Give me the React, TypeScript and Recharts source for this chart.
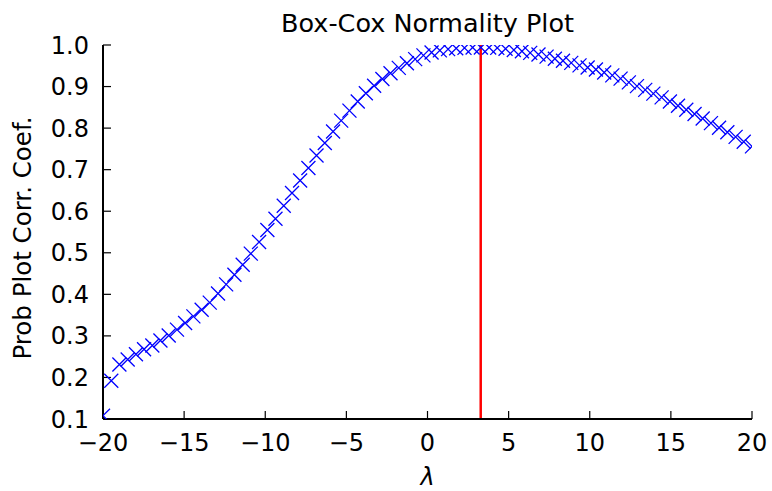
import { ComposedChart, Scatter, XAxis, YAxis, ReferenceLine } from 'recharts'

// lambda grid (80 points, -20 .. 20)
const LAMBDAS = [
  -20.00, -19.49, -18.99, -18.48, -17.97, -17.47, -16.96, -16.46, -15.95, -15.44,
  -14.94, -14.43, -13.92, -13.42, -12.91, -12.41, -11.90, -11.39, -10.89, -10.38,
  -9.87, -9.37, -8.86, -8.35, -7.85, -7.34, -6.84, -6.33, -5.82, -5.32,
  -4.81, -4.30, -3.80, -3.29, -2.78, -2.28, -1.77, -1.27, -0.76, -0.25,
  0.25, 0.76, 1.27, 1.77, 2.28, 2.78, 3.29, 3.80, 4.30, 4.81,
  5.32, 5.82, 6.33, 6.84, 7.34, 7.85, 8.35, 8.86, 9.37, 9.87,
  10.38, 10.89, 11.39, 11.90, 12.41, 12.91, 13.42, 13.92, 14.43, 14.94,
  15.44, 15.95, 16.46, 16.96, 17.47, 17.97, 18.48, 18.99, 19.49, 20.00,
]

const PPCC = [
  0.108, 0.192, 0.231, 0.243, 0.256, 0.268, 0.277, 0.289, 0.301, 0.315,
  0.331, 0.347, 0.363, 0.380, 0.402, 0.424, 0.447, 0.471, 0.498, 0.526,
  0.555, 0.582, 0.613, 0.644, 0.674, 0.704, 0.734, 0.764, 0.792, 0.818,
  0.842, 0.864, 0.884, 0.902, 0.918, 0.932, 0.945, 0.956, 0.966, 0.975,
  0.982, 0.987, 0.990, 0.992, 0.993, 0.994, 0.994, 0.994, 0.993, 0.991,
  0.988, 0.985, 0.981, 0.977, 0.972, 0.967, 0.962, 0.957, 0.951, 0.946,
  0.941, 0.934, 0.927, 0.919, 0.910, 0.901, 0.892, 0.883, 0.874, 0.864,
  0.854, 0.844, 0.834, 0.823, 0.812, 0.801, 0.790, 0.779, 0.767, 0.756,
]

const MAX_LAMBDA = 3.28

const X_TICKS = [-20, -15, -10, -5, 0, 5, 10, 15, 20]
const Y_TICKS = [0.1, 0.2, 0.3, 0.4, 0.5, 0.6, 0.7, 0.8, 0.9, 1.0]

const points = LAMBDAS.map((l, i) => ({ lambda: l, ppcc: PPCC[i] }))

const FONT = 'DejaVu Sans'
const tickStyle = { fill: '#000', fontSize: 24, fontFamily: FONT }
const axisLine = { stroke: '#000', strokeWidth: 2 }
const tickLine = { stroke: '#000', strokeWidth: 1.2 }

const fmtX = (v: number) => (v < 0 ? '\u2212' + Math.abs(v) : String(v))
const fmtY = (v: number) => v.toFixed(1)

function XMark(props: any) {
  const { cx, cy } = props
  const h = 7
  return (
    <path
      d={`M${cx - h},${cy - h}L${cx + h},${cy + h}M${cx - h},${cy + h}L${cx + h},${cy - h}`}
      stroke="#0000ff"
      strokeWidth={1.3}
      fill="none"
    />
  )
}

export default function App() {
  return (
    <div style={{ position: 'absolute', left: 0, top: 0, width: 772, height: 491, background: '#fff' }}>
      <ComposedChart width={772} height={491} margin={{ top: 45, right: 20, bottom: 0, left: 0 }}>
        <XAxis
          xAxisId="b"
          type="number"
          dataKey="lambda"
          domain={[-20, 20]}
          ticks={X_TICKS}
          interval={0}
          allowDataOverflow
          orientation="bottom"
          height={72}
          tickSize={-8}
          tickMargin={23}
          axisLine={axisLine}
          tickLine={tickLine}
          tick={tickStyle}
          tickFormatter={fmtX}
        />
        <XAxis
          xAxisId="t"
          type="number"
          domain={[-20, 20]}
          ticks={X_TICKS}
          interval={0}
          allowDataOverflow
          orientation="top"
          height={0}
          tickSize={-8}
          axisLine={axisLine}
          tickLine={tickLine}
          tick={false}
        />
        <YAxis
          yAxisId="l"
          type="number"
          dataKey="ppcc"
          domain={[0.1, 1.0]}
          ticks={Y_TICKS}
          interval={0}
          allowDataOverflow
          width={103}
          tickSize={-8}
          tickMargin={22}
          axisLine={axisLine}
          tickLine={tickLine}
          tick={tickStyle}
          tickFormatter={fmtY}
        />
        <YAxis
          yAxisId="r"
          type="number"
          domain={[0.1, 1.0]}
          ticks={Y_TICKS}
          interval={0}
          allowDataOverflow
          orientation="right"
          width={0}
          tickSize={-8}
          axisLine={axisLine}
          tickLine={tickLine}
          tick={false}
        />
        <Scatter
          xAxisId="b"
          yAxisId="l"
          data={points}
          dataKey="ppcc"
          shape={XMark}
          isAnimationActive={false}
        />
        <ReferenceLine xAxisId="b" yAxisId="l" x={MAX_LAMBDA} stroke="#ff0000" strokeWidth={2.5} />
      </ComposedChart>
      <svg
        width={772}
        height={491}
        style={{ position: 'absolute', left: 0, top: 0, pointerEvents: 'none' }}
        fontFamily={FONT}
        fontSize={24}
      >
        <text x={427.5} y={32} textAnchor="middle" fontSize={25.5}>Box-Cox Normality Plot</text>
        <text x={427.5} y={485} textAnchor="middle" fontStyle="italic">λ</text>
        <text transform="translate(31,238) rotate(-90)" textAnchor="middle" fontSize={24.5}>Prob Plot Corr. Coef.</text>
      </svg>
    </div>
  )
}
